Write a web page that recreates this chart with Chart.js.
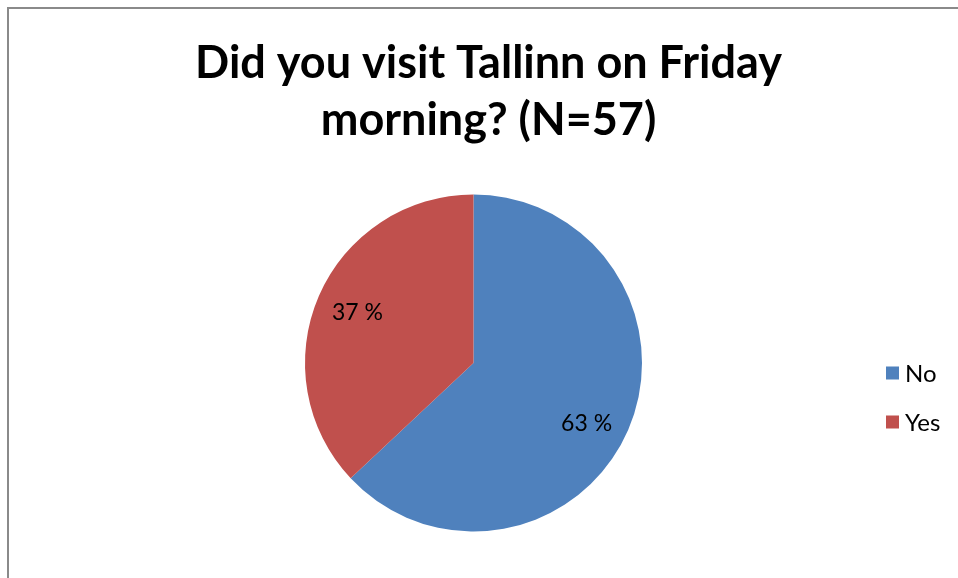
<!DOCTYPE html>
<html>
<head>
<meta charset="utf-8">
<title>Did you visit Tallinn on Friday morning?</title>
<script src="https://cdn.jsdelivr.net/npm/chart.js@4.4.1/dist/chart.umd.min.js"></script>
<style>
  html, body { margin: 0; padding: 0; background: #ffffff; }
  #wrap { position: relative; width: 958px; height: 578px; }
</style>
</head>
<body>
<div id="wrap"><canvas id="chart" width="958" height="578"></canvas></div>
<script>
// Survey answers (percent of respondents)
const categories = ['No', 'Yes'];
const percentValues = [63, 37];
const sliceColors = ['#4F81BD', '#C0504D'];
const titleLines = ['Did you visit Tallinn on Friday', 'morning? (N=57)'];

const FONT = 'Lato, "Open Sans", "Liberation Sans", sans-serif';

// Outer frame, title, slice labels and the legend on the right
const decorations = {
  id: 'decorations',
  beforeDraw(chart) {
    const ctx = chart.ctx;
    ctx.save();
    ctx.fillStyle = '#ffffff';
    ctx.fillRect(0, 0, chart.width, chart.height);
    ctx.strokeStyle = '#8a8a8a';
    ctx.lineWidth = 2;
    ctx.beginPath();
    ctx.moveTo(8, chart.height);
    ctx.lineTo(8, 8);
    ctx.lineTo(chart.width, 8);
    ctx.stroke();

    ctx.fillStyle = '#000000';
    ctx.font = 'bold 45px ' + FONT;
    ctx.textAlign = 'center';
    ctx.textBaseline = 'alphabetic';
    titleLines.forEach((line, i) => ctx.fillText(line, 488.5, 78 + i * 57));
    ctx.restore();
  },
  afterDatasetsDraw(chart) {
    const ctx = chart.ctx;
    const meta = chart.getDatasetMeta(0);
    const values = chart.data.datasets[0].data;
    // label anchor inside each slice: fraction of the radius and a small angle shift
    const anchor = [{ f: 0.76, shift: 0.08 }, { f: 0.75, shift: 0 }];
    ctx.save();
    ctx.fillStyle = '#000000';
    ctx.font = '23px ' + FONT;
    ctx.textAlign = 'center';
    ctx.textBaseline = 'middle';
    meta.data.forEach((arc, i) => {
      const p = arc.getProps(['x', 'y', 'startAngle', 'endAngle', 'outerRadius'], true);
      const mid = (p.startAngle + p.endAngle) / 2 + anchor[i].shift;
      const r = p.outerRadius * anchor[i].f;
      ctx.fillText(values[i] + ' %', p.x + Math.cos(mid) * r, p.y + Math.sin(mid) * r);
    });

    // legend
    ctx.textAlign = 'left';
    ctx.font = '24px ' + FONT;
    chart.data.labels.forEach((label, i) => {
      const cy = 373 + i * 49;
      ctx.fillStyle = chart.data.datasets[0].backgroundColor[i];
      ctx.fillRect(886, cy - 6.5, 13, 13);
      ctx.fillStyle = '#000000';
      ctx.fillText(label, 905, cy + 1);
    });
    ctx.restore();
  }
};

new Chart(document.getElementById('chart'), {
  type: 'pie',
  data: {
    labels: categories,
    datasets: [{
      data: percentValues,
      backgroundColor: sliceColors,
      borderWidth: 0
    }]
  },
  options: {
    responsive: false,
    animation: false,
    radius: 168.5,
    layout: { padding: { left: 100, right: 111, top: 180, bottom: 32 } },
    plugins: {
      legend: { display: false },
      title: { display: false },
      tooltip: { enabled: false }
    }
  },
  plugins: [decorations]
});
</script>
</body>
</html>
